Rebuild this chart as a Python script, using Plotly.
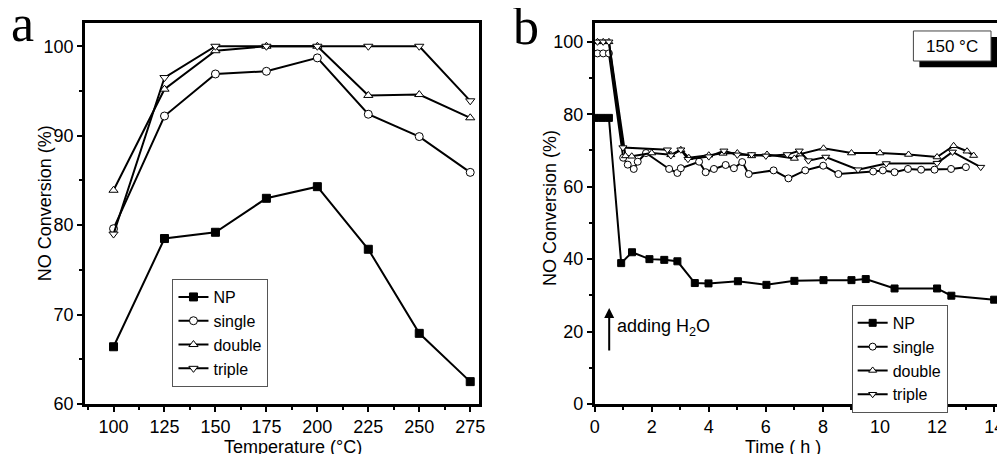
import plotly.graph_objects as go

# panel a: conversion vs temperature
temps = [100, 125, 150, 175, 200, 225, 250, 275]
temp_np = [66.4, 78.5, 79.2, 83.0, 84.3, 77.3, 67.9, 62.5]
temp_single = [79.6, 92.2, 96.9, 97.2, 98.7, 92.4, 89.9, 85.9]
temp_double = [83.9, 95.2, 99.5, 100, 100, 94.5, 94.6, 92.0]
temp_triple = [79.0, 96.5, 100, 100, 100, 100, 100, 93.9]

# panel b: conversion vs time at 150 C after adding water
time_np = [0, 0.25, 0.5, 0.93, 1.31, 1.92, 2.44, 2.9, 3.51, 3.99, 5.02, 6.02, 7.0, 8.02,
           9.0, 9.5, 10.51, 12.0, 12.5, 14.0]
conv_np = [79, 79, 79, 38.9, 41.9, 40.0, 39.8, 39.4, 33.4, 33.3, 33.9, 32.9, 34.0, 34.2,
           34.2, 34.5, 31.9, 31.9, 29.9, 28.8]

time_single = [0.1, 0.3, 0.5, 1.0, 1.16, 1.37, 1.51, 1.8, 2.61, 2.9, 3.02, 3.66, 3.89, 4.18,
               4.59, 4.88, 5.17, 5.4, 6.27, 6.79, 7.38, 8.01, 8.54, 9.76, 10.1, 10.51, 10.98,
               11.44, 11.91, 12.49, 13.01]
conv_single = [96.8, 96.8, 96.8, 68.0, 66.1, 64.9, 66.9, 69.3, 64.9, 63.8, 65.1, 66.9, 64.0, 64.9,
               66.0, 65.1, 66.8, 63.5, 64.5, 62.3, 64.5, 65.8, 63.5, 64.2, 64.5, 64.0, 64.9,
               64.7, 64.7, 64.9, 65.4]

time_double = [0.1, 0.3, 0.5, 1.08, 1.3, 2.0, 2.67, 3.02, 3.3, 4.0, 4.5, 5.0, 5.5, 6.04, 7.0,
               7.2, 8.02, 9.0, 10.0, 11.0, 12.0, 12.58, 13.05, 13.28]
conv_double = [100, 100, 100, 68.5, 68.4, 69.3, 68.8, 70.2, 68.0, 68.7, 69.2, 69.3, 68.5, 68.9, 67.8,
               69.0, 70.6, 69.3, 69.3, 68.9, 68.2, 71.3, 69.8, 68.6]

time_triple = [0.1, 0.3, 0.5, 0.99, 2.55, 2.67, 3.02, 3.27, 4.0, 4.53, 5.0, 5.5, 6.0, 6.75, 7.17,
               7.49, 8.1, 9.23, 10.22, 12.0, 12.54, 13.53]
conv_triple = [100, 100, 100, 70.8, 70.2, 68.6, 70.2, 67.6, 68.3, 69.9, 68.8, 68.9, 68.5, 68.9, 69.9,
               67.2, 68.2, 64.7, 66.4, 66.5, 69.6, 65.4]

names = ["NP", "single", "double", "triple"]
symbols = ["square", "circle", "triangle-up", "triangle-down"]
fills = ["black", "white", "white", "white"]

FONT = "Liberation Sans, Arial, sans-serif"
SERIF = "Liberation Serif, Times New Roman, serif"

fig = go.Figure()

panel_a = [temp_np, temp_single, temp_double, temp_triple]
for name, sym, fill, ys in zip(names, symbols, fills, panel_a):
    fig.add_trace(go.Scatter(
        x=temps, y=ys, name=name, mode="lines+markers",
        line=dict(color="black", width=2),
        marker=dict(symbol=sym, size=8, color=fill, line=dict(color="black", width=1)),
        xaxis="x", yaxis="y", legend="legend",
    ))

panel_b = [(time_np, conv_np), (time_single, conv_single),
           (time_double, conv_double), (time_triple, conv_triple)]
for name, sym, fill, (xs, ys) in zip(names, symbols, fills, panel_b):
    fig.add_trace(go.Scatter(
        x=xs, y=ys, name=name, mode="lines+markers",
        line=dict(color="black", width=2),
        marker=dict(symbol=sym, size=7, color=fill, line=dict(color="black", width=1)),
        xaxis="x2", yaxis="y2", legend="legend2",
    ))

axis_style = dict(
    showline=True, linecolor="black", linewidth=2.5, showgrid=False, zeroline=False,
    ticks="outside", ticklen=5, tickwidth=2, tickcolor="black",
    tickfont=dict(family=FONT, size=18, color="black"),
)
minor_style = dict(ticks="outside", ticklen=3, tickwidth=2, tickcolor="black")
legend_style = dict(xanchor="left", yanchor="top", bordercolor="#555", borderwidth=1,
                    bgcolor="white", font=dict(family=FONT, size=16), itemsizing="trace")

# the page body adds an 8px margin, so the figure is 8px smaller than the window
fig.update_layout(
    width=997, height=446,
    margin=dict(l=77, r=0, t=15, b=50),
    paper_bgcolor="white", plot_bgcolor="white",
    font=dict(family=FONT, color="black"),
    xaxis=dict(axis_style, domain=[0, 0.4315], range=[86, 279.5], mirror=True,
               tickvals=temps, minor=dict(minor_style, dtick=12.5, tick0=100), anchor="y"),
    yaxis=dict(axis_style, domain=[0, 1], range=[60, 102.6], mirror=True, dtick=10,
               minor=dict(minor_style, dtick=5), anchor="x"),
    xaxis2=dict(axis_style, domain=[0.5576, 1], range=[0, 14.17], mirror=True, dtick=2,
                minor=dict(minor_style, dtick=1), anchor="y2"),
    yaxis2=dict(axis_style, domain=[0, 1], range=[0, 105.2], dtick=20,
                minor=dict(minor_style, dtick=10), anchor="x2"),
    legend=dict(legend_style, x=0.0957, y=0.328),
    legend2=dict(legend_style, x=0.8388, y=0.26),
    showlegend=True,
)

# 150 C label box with drop shadow
fig.add_shape(type="rect", xref="x2", yref="y2", x0=11.38, x1=14.3, y0=93.0, y1=101.3,
              fillcolor="black", line=dict(width=0))
fig.add_shape(type="rect", xref="x2", yref="y2", x0=11.17, x1=13.89, y0=94.7, y1=103.0,
              fillcolor="white", line=dict(color="#444", width=1))

text_defaults = dict(showarrow=False, xanchor="center", yanchor="middle")
annotations = [
    dict(text_defaults, text="a", x=-0.068, y=1.0, xref="paper", yref="paper",
         font=dict(family=SERIF, size=52)),
    dict(text_defaults, text="b", x=0.4826, y=0.99, xref="paper", yref="paper",
         font=dict(family=SERIF, size=52)),
    dict(text_defaults, text="150 °C", x=12.53, y=98.8, xref="x2", yref="y2",
         font=dict(family=FONT, size=17)),
    dict(text="", x=0.51, y=26.5, xref="x2", yref="y2", ax=0, ay=44, showarrow=True,
         arrowhead=2, arrowsize=1, arrowwidth=2, arrowcolor="black"),
    dict(text_defaults, text="adding H<sub>2</sub>O", x=0.72, y=21.0, xref="x2", yref="y2",
         xanchor="left", font=dict(family=FONT, size=18)),
    dict(text_defaults, text="NO Conversion (%)", x=-0.0435, y=0.5276, xref="paper",
         yref="paper", textangle=-90, font=dict(family=FONT, size=18)),
    dict(text_defaults, text="NO Conversion (%)", x=0.5087, y=0.514, xref="paper",
         yref="paper", textangle=-90, font=dict(family=FONT, size=18)),
    dict(text_defaults, text="Temperature (°C)", x=0.228, y=-0.113, xref="paper",
         yref="paper", font=dict(family=FONT, size=18)),
    dict(text_defaults, text="Time ( h )", x=0.764, y=-0.114, xref="paper", yref="paper",
         font=dict(family=FONT, size=18)),
]
fig.update_layout(annotations=annotations)

fig.write_html("out.html")
